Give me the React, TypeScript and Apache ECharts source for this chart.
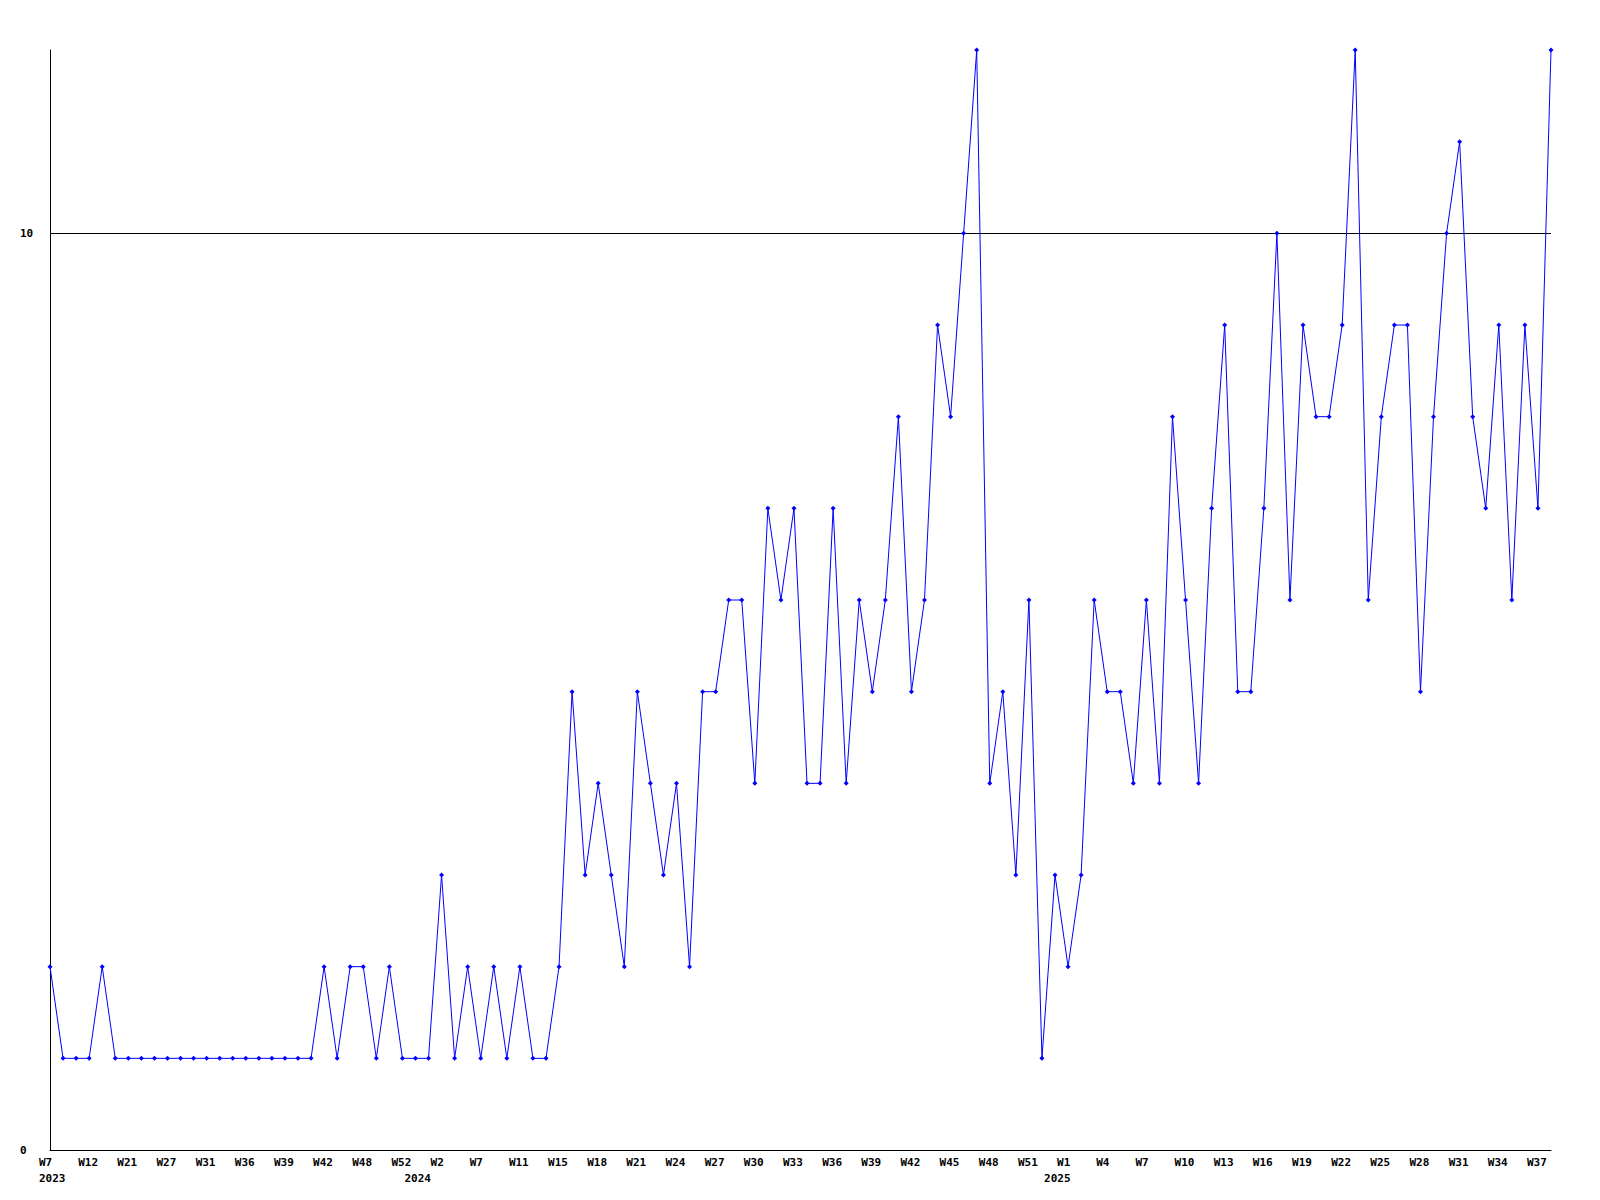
import React, { useEffect, useRef } from "react";
import * as echarts from "echarts";

// Category (one per data point): "YEAR-Wnn"
const categories: string[] = [
  // 2023
  "2023-W7", "2023-W8", "2023-W10", "2023-W12", "2023-W15", "2023-W18", "2023-W21", "2023-W23", "2023-W25", "2023-W27",
  "2023-W29", "2023-W30", "2023-W31", "2023-W33", "2023-W34", "2023-W36", "2023-W37", "2023-W38", "2023-W39", "2023-W40",
  "2023-W41", "2023-W42", "2023-W44", "2023-W46", "2023-W48", "2023-W49", "2023-W51", "2023-W52",
  // 2024
  "2024-W1", "2024-W1", "2024-W2", "2024-W3", "2024-W5", "2024-W7", "2024-W8", "2024-W10", "2024-W11", "2024-W12",
  "2024-W13", "2024-W15", "2024-W16", "2024-W17", "2024-W18", "2024-W19", "2024-W20", "2024-W21", "2024-W22", "2024-W23",
  "2024-W24", "2024-W25", "2024-W26", "2024-W27", "2024-W28", "2024-W29", "2024-W30", "2024-W31", "2024-W32", "2024-W33",
  "2024-W34", "2024-W35", "2024-W36", "2024-W37", "2024-W38", "2024-W39", "2024-W40", "2024-W41", "2024-W42", "2024-W43",
  "2024-W44", "2024-W45", "2024-W46", "2024-W47", "2024-W48", "2024-W49", "2024-W50", "2024-W51", "2024-W52",
  // 2025
  "2025-W1", "2025-W1", "2025-W2", "2025-W3", "2025-W4", "2025-W5", "2025-W6", "2025-W7", "2025-W8", "2025-W9", "2025-W10",
  "2025-W11", "2025-W12", "2025-W13", "2025-W14", "2025-W15", "2025-W16", "2025-W17", "2025-W18", "2025-W19", "2025-W20",
  "2025-W21", "2025-W22", "2025-W23", "2025-W24", "2025-W25", "2025-W26", "2025-W27", "2025-W28", "2025-W29", "2025-W30",
  "2025-W31", "2025-W32", "2025-W33", "2025-W34", "2025-W35", "2025-W36", "2025-W37", "2025-W38",
];

const values: number[] = [
  2, 1, 1, 1, 2, 1, 1, 1, 1, 1,
  1, 1, 1, 1, 1, 1, 1, 1, 1, 1,
  1, 2, 1, 2, 2, 1, 2, 1, 1, 1,
  3, 1, 2, 1, 2, 1, 2, 1, 1, 2,
  5, 3, 4, 3, 2, 5, 4, 3, 4, 2,
  5, 5, 6, 6, 4, 7, 6, 7, 4, 4,
  7, 4, 6, 5, 6, 8, 5, 6, 9, 8,
  10, 12, 4, 5, 3, 6, 1, 3, 2, 3,
  6, 5, 5, 4, 6, 4, 8, 6, 4, 7,
  9, 5, 5, 7, 10, 6, 9, 8, 8, 9,
  12, 6, 8, 9, 9, 5, 8, 10, 11, 8,
  7, 9, 6, 9, 7, 12,
];

const yMin = 0;
const yMax = 12;
const yInterval = 10;
const labelEvery = 3;

const yearOf = (i: number) => categories[i].split("-")[0];
const weekOf = (i: number) => categories[i].split("-")[1];
const isYearStart = (i: number) => i === 0 || yearOf(i) !== yearOf(i - 1);

export default function App() {
  const ref = useRef<HTMLDivElement>(null);
  useEffect(() => {
    if (!ref.current) return;
    const chart = echarts.init(ref.current, null, { renderer: "svg" });
    const font = "'DejaVu Sans Mono', monospace";
    chart.setOption({
      animation: false,
      backgroundColor: "#ffffff",
      grid: { left: 50, right: 49, top: 50, bottom: 50, containLabel: false },
      xAxis: {
        type: "category",
        data: categories,
        boundaryGap: false,
        axisLine: { show: true, lineStyle: { color: "#000", width: 1 } },
        axisTick: { show: false },
        splitLine: { show: false },
        axisLabel: {
          interval: (index: number) => index % labelEvery === 0 || isYearStart(index),
          margin: 4,
          color: "#000",
          fontFamily: font,
          fontWeight: "bold",
          fontSize: 11,
          lineHeight: 16,
          align: "left",
          verticalAlign: "top",
          padding: [0, 0, 0, -11],
          formatter: (_value: string, index: number) => {
            const week = index % labelEvery === 0 ? weekOf(index) : "";
            return isYearStart(index) ? `${week}\n${yearOf(index)}` : week;
          },
        },
      },
      yAxis: {
        type: "value",
        min: yMin,
        max: yMax,
        interval: yInterval,
        axisLine: { show: true, lineStyle: { color: "#000", width: 1 } },
        axisTick: { show: false },
        splitLine: {
          show: true,
          showMinLine: false,
          showMaxLine: false,
          lineStyle: { color: "#000", width: 1 },
        },
        axisLabel: {
          showMaxLabel: false,
          align: "left",
          margin: 30,
          color: "#000",
          fontFamily: font,
          fontWeight: "bold",
          fontSize: 11,
        },
      },
      series: [
        {
          type: "line",
          data: values,
          symbol: "diamond",
          symbolSize: 5,
          showAllSymbol: true,
          lineStyle: { color: "#0000ff", width: 1 },
          itemStyle: { color: "#0000ff" },
          clip: false,
        },
      ],
    });
    return () => chart.dispose();
  }, []);
  return (
    <div
      ref={ref}
      style={{ position: "fixed", left: 0, top: 0, width: 1600, height: 1200, background: "#fff" }}
    />
  );
}
